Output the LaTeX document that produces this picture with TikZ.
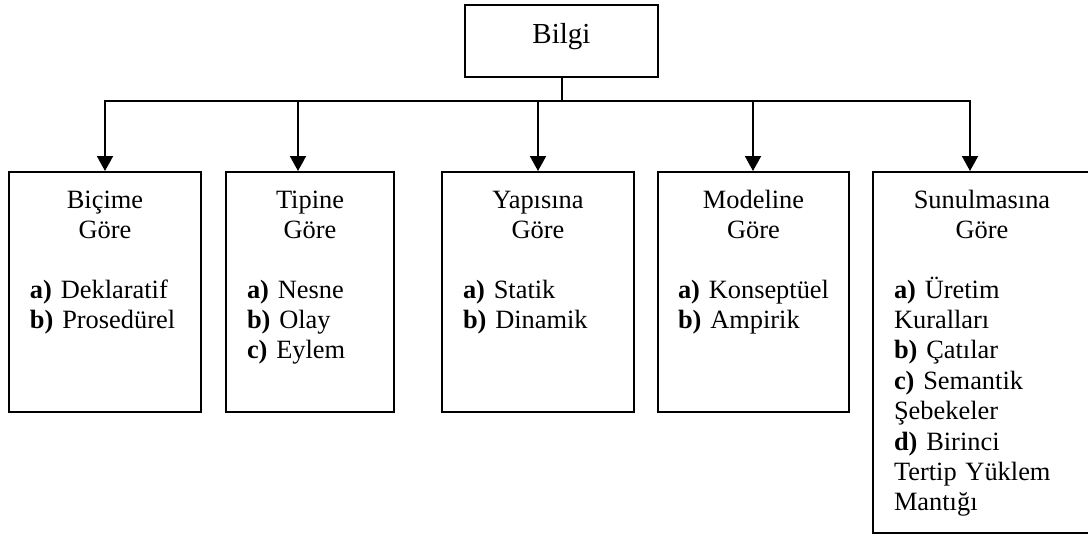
\documentclass[tikz,border=0pt]{standalone}
\usepackage{fontspec}
\setmainfont{Liberation Serif}
\usetikzlibrary{positioning,arrows.meta}

\begin{document}
\begin{tikzpicture}[x=0.5pt, y=-0.5pt, line width=1pt,
		every node/.style={font=\fontsize{13.2}{15.2}\selectfont},
		kutu/.style={draw, inner sep=0pt, minimum height=120pt},
		baslik/.style={text width=100pt, align=center, inner sep=0pt, anchor=base},
		liste/.style={text width=95pt, align=left, inner sep=0pt, anchor=base west},
		ok/.style={-{Triangle[width=8pt,length=7.5pt]}}]
			\useasboundingbox (0,0) rectangle (1088,536);
			\clip (0,0) rectangle (1088,536);
			\node[draw, inner sep=0pt, minimum width=96.5pt, text height=19pt, text depth=17pt, font=\fontsize{14.5}{17}\selectfont] (bilgi) at (561.5,41) {Bilgi};
			\node[kutu, minimum width=96pt] (bicim) at (105,292) {};
			\node[kutu, minimum width=84pt] (tip) at (310,292) {};
			\node[kutu, minimum width=96pt] (yapi) at (538,292) {};
			\node[kutu, minimum width=95.5pt] (model) at (753.5,292) {};
			\node[kutu, minimum width=109pt, minimum height=180.5pt] (sunum) at (982,352.5) {};
			\coordinate (k1) at (105,100.5);
			\coordinate (k2) at (298,100.5);
			\coordinate (k3) at (538,100.5);
			\coordinate (k4) at (753,100.5);
			\coordinate (k5) at (970,100.5);
			\draw [line cap=rect] (k1) -- (k5);
			\draw (bilgi.south) -- (bilgi.south |- k1);
			\draw [ok] (k1) -- (k1 |- bicim.north);
			\draw [ok] (k2) -- (k2 |- tip.north);
			\draw [ok] (k3) -- (k3 |- yapi.north);
			\draw [ok] (k4) -- (k4 |- model.north);
			\draw [ok] (k5) -- (k5 |- sunum.north);
			\node[baslik] (bicim-bas) at ([yshift=-18.75pt]bicim.north) {Biçime\\Göre};
			\node[baslik] (tip-bas) at ([yshift=-18.75pt]tip.north) {Tipine\\Göre};
			\node[baslik] (yapi-bas) at ([yshift=-18.75pt]yapi.north) {Yapısına\\Göre};
			\node[baslik] (model-bas) at ([yshift=-18.75pt]model.north) {Modeline\\Göre};
			\node[baslik] (sunum-bas) at ([yshift=-18.75pt]sunum.north) {Sunulmasına\\Göre};
			\node[liste] (bicim-lis) at ([xshift=10.5pt,yshift=-63.5pt]bicim.north west) {\textbf{a)} Deklaratif\\\textbf{b)} Prosedürel};
			\node[liste] (tip-lis) at ([xshift=10.5pt,yshift=-63.5pt]tip.north west) {\textbf{a)} Nesne\\\textbf{b)} Olay\\\textbf{c)} Eylem};
			\node[liste] (yapi-lis) at ([xshift=10.5pt,yshift=-63.5pt]yapi.north west) {\textbf{a)} Statik\\\textbf{b)} Dinamik};
			\node[liste] (model-lis) at ([xshift=10pt,yshift=-63.5pt]model.north west) {\textbf{a)} Konseptüel\\\textbf{b)} Ampirik};
			\node[liste] (sunum-lis) at ([xshift=10.5pt,yshift=-63.5pt]sunum.north west) {\textbf{a)} Üretim\\Kuralları\\\textbf{b)} Çatılar\\\textbf{c)} Semantik\\Şebekeler\\\textbf{d)} Birinci\\Tertip Yüklem\\Mantığı};
		\end{tikzpicture}
\end{document}
